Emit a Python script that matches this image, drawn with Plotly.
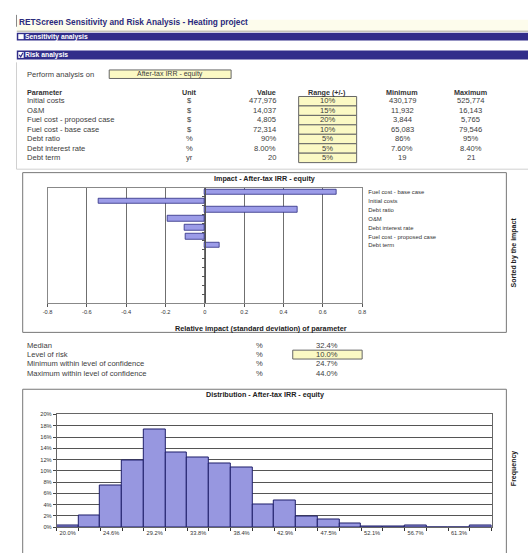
import plotly.graph_objects as go

# ---------------- data ----------------
params = ["Initial costs", "O&M", "Fuel cost - proposed case", "Fuel cost - base case",
          "Debt ratio", "Debt interest rate", "Debt term"]
units = ["$", "$", "$", "$", "%", "%", "yr"]
values = ["477,976", "14,037", "4,805", "72,314", "90%", "8.00%", "20"]
ranges = ["10%", "15%", "20%", "10%", "5%", "5%", "5%"]
minimums = ["430,179", "11,932", "3,844", "65,083", "86%", "7.60%", "19"]
maximums = ["525,774", "16,143", "5,765", "79,546", "95%", "8.40%", "21"]

impact_labels = ["Fuel cost - base case", "Initial costs", "Debt ratio", "O&M",
                 "Debt interest rate", "Fuel cost - proposed case", "Debt term"]
impacts = [0.67, -0.54, 0.47, -0.19, -0.105, -0.097, 0.075]
impact_ticks = [-0.8, -0.6, -0.4, -0.2, 0, 0.2, 0.4, 0.6, 0.8]
impact_ticklabels = ["-0.8", "-0.6", "-0.4", "-0.2", "0", "0.2", "0.4", "0.6", "0.8"]

risk_labels = ["Median", "Level of risk", "Minimum within level of confidence",
               "Maximum within level of confidence"]
risk_values = ["32.4%", "10.0%", "24.7%", "44.0%"]

freq = [0.3, 2.0, 7.4, 11.9, 17.3, 13.2, 12.4, 11.3, 10.6, 4.1,
        4.7, 1.9, 1.4, 0.6, 0.2, 0.2, 0.3, 0.0, 0.0, 0.3]
bin_labels = ["20.0%", "24.6%", "29.2%", "33.8%", "38.4%", "42.9%", "47.5%", "52.1%", "56.7%", "61.3%"]
freq_ticks = [0, 2, 4, 6, 8, 10, 12, 14, 16, 18, 20]
freq_ticklabels = ["0%", "2%", "4%", "6%", "8%", "10%", "12%", "14%", "16%", "18%", "20%"]

# ---------------- layout helpers ----------------
W, H = 532, 553
FONT = "Arial, Liberation Sans, sans-serif"
TXT = "#3c3c3c"
NAVY = "#312d8a"
YEL = "#fbf9c4"


def X(p):
    return p / W


def Y(p):
    return 1 - p / H


annots = []
shapes = []


def txt(x, y, s, size=7.6, color=TXT, bold=False, xanchor="left", angle=0):
    annots.append(dict(x=X(x), y=Y(y), xref="paper", yref="paper",
                       text=f"<b>{s}</b>" if bold else s, showarrow=False,
                       xanchor=xanchor, yanchor="middle", textangle=angle,
                       font=dict(size=size, color=color, family=FONT), borderpad=0))


def rect(x0, y0, x1, y1, fill=None, line=None, lw=1):
    shapes.append(dict(type="rect", xref="paper", yref="paper",
                       x0=X(x0), x1=X(x1), y0=Y(y1), y1=Y(y0),
                       fillcolor=fill if fill else "rgba(0,0,0,0)",
                       line=dict(color=line if line else "rgba(0,0,0,0)", width=lw if line else 0),
                       layer="below"))


def hline(x0, x1, y, color, lw=1):
    shapes.append(dict(type="line", xref="paper", yref="paper", x0=X(x0), x1=X(x1),
                       y0=Y(y), y1=Y(y), line=dict(color=color, width=lw), layer="below"))


def vline(x, y0, y1, color, lw=1):
    shapes.append(dict(type="line", xref="paper", yref="paper", x0=X(x), x1=X(x),
                       y0=Y(y0), y1=Y(y1), line=dict(color=color, width=lw), layer="below"))


# ---------------- header ----------------
rect(12, 17, 532, 28, fill="#fdfcec")
hline(12, 532, 28.5, "#a8a898", 1)
vline(11.7, 12, 24, "#888")
txt(13, 19.5, "RETScreen Sensitivity and Risk Analysis - Heating project", size=8.3, color="#2b2a7c", bold=True)

rect(12, 30, 532, 38, fill=NAVY)
rect(13.5, 31.5, 19, 36.5, fill="white")
txt(19.5, 34, "Sensitivity analysis", size=6.8, color="white", bold=True)

rect(12, 48, 532, 57, fill=NAVY)
rect(13.5, 49.5, 19, 55.5, fill="white")
shapes.append(dict(type="path", xref="paper", yref="paper",
                   path=f"M {X(14.5)},{Y(52.5)} L {X(16)},{Y(54.5)} L {X(18.3)},{Y(50.3)}",
                   line=dict(color=NAVY, width=1.2)))
txt(19.5, 52.5, "Risk analysis", size=6.8, color="white", bold=True)

# ---------------- perform analysis ----------------
txt(21, 72, "Perform analysis on")
rect(106, 67.7, 230, 76.3, fill=YEL, line="#666", lw=1)
txt(168, 72, "After-tax IRR - equity", size=7, xanchor="center")

# ---------------- table ----------------
vline(11.7, 60, 168, "#d0d0d0")
hline(11.7, 532, 168, "#d0d0d0")
hdr_y = 90
txt(21, hdr_y, "Parameter", size=7.2, bold=True, color="#333")
txt(188, hdr_y, "Unit", size=7.2, bold=True, color="#333", xanchor="center")
txt(276.5, hdr_y, "Value", size=7.2, bold=True, color="#333", xanchor="right")
txt(328, hdr_y, "Range (+/-)", size=7.2, bold=True, color="#333", xanchor="center")
txt(404, hdr_y, "Minimum", size=7.2, bold=True, color="#333", xanchor="center")
txt(474, hdr_y, "Maximum", size=7.2, bold=True, color="#333", xanchor="center")
row0, step = 99.0, 9.55
for i in range(len(params)):
    yy = row0 + step * i
    rect(298.7, yy - step / 2 + 0.3, 357.7, yy + step / 2 + 0.3, fill=YEL, line="#666", lw=1)
    txt(21, yy, params[i])
    txt(188, yy, units[i], xanchor="center")
    txt(276.5, yy, values[i], xanchor="right")
    txt(328, yy, ranges[i], xanchor="center")
    txt(404, yy, minimums[i], xanchor="center")
    txt(474, yy, maximums[i], xanchor="center")

# ---------------- tornado box ----------------
rect(18, 171.5, 510, 333, line="#777", lw=1)
txt(264, 177.5, "Impact - After-tax IRR - equity", size=7.2, bold=True, color="#222", xanchor="center")
txt(260, 329, "Relative impact (standard deviation) of parameter", size=7.3, bold=True, color="#222", xanchor="center")
txt(518, 252, "Sorted by the impact", size=7, bold=True, color="#222", xanchor="center", angle=-90)

# ---------------- risk summary ----------------
ry0, rstep = 346, 9.45
for i in range(len(risk_labels)):
    yy = ry0 + rstep * i
    if i == 1:
        rect(292.7, yy - 4.5, 363.3, yy + 4.5, fill=YEL, line="#666", lw=1)
    txt(21, yy, risk_labels[i])
    txt(259, yy, "%", xanchor="center")
    txt(328, yy, risk_values[i], xanchor="center")

# ---------------- histogram box ----------------
rect(18, 390.5, 510, 570, line="#777", lw=1)
txt(264, 395.5, "Distribution - After-tax IRR - equity", size=7.2, bold=True, color="#222", xanchor="center")
txt(518, 470, "Frequency", size=7, bold=True, color="#222", xanchor="center", angle=-90)

# ---------------- traces ----------------
fig = go.Figure()
fig.add_trace(go.Bar(x=impacts, y=list(range(len(impacts))), orientation="h",
                     marker=dict(color="#9c9ce8", line=dict(color="#2b2b80", width=0.8)),
                     width=0.62, xaxis="x", yaxis="y", showlegend=False, hoverinfo="skip"))
fig.add_trace(go.Scatter(x=[None], y=[None], xaxis="x", yaxis="y3", showlegend=False, hoverinfo="skip"))
fig.add_trace(go.Bar(x=list(range(len(freq))), y=freq,
                     marker=dict(color="#9797e0", line=dict(color="#1e1e6a", width=1)),
                     xaxis="x2", yaxis="y2", showlegend=False, hoverinfo="skip"))

TORN_SLOTS = 13
tx0, tx1 = X(43.3), X(363.3)
zero_pos = tx0 + (tx1 - tx0) * (0 - (-0.8)) / 1.6
small = dict(size=5.7, color="#333", family=FONT)

fig.update_layout(
    width=W, height=H, margin=dict(l=0, r=0, t=0, b=0),
    paper_bgcolor="white", plot_bgcolor="white", bargap=0,
    font=dict(family=FONT),
    xaxis=dict(domain=[tx0, tx1], range=[-0.8, 0.8], tickvals=impact_ticks, ticktext=impact_ticklabels,
               showgrid=True, gridcolor="#6f6f6f", gridwidth=1, showline=True, mirror=True,
               linecolor="#888", ticks="outside", ticklen=3, tickcolor="#555", tickfont=small,
               zeroline=False, anchor="y", fixedrange=True),
    yaxis=dict(domain=[Y(303.3), Y(186.7)], range=[TORN_SLOTS - 0.5, -0.5],
               tickvals=list(range(len(impact_labels))), ticktext=impact_labels, side="right",
               showgrid=False, showline=True, mirror=True, linecolor="#888", ticks="",
               ticklabelstandoff=4,
               tickfont=dict(size=5.9, color="#333", family=FONT), anchor="x", zeroline=False),
    yaxis3=dict(overlaying="y", anchor="free", position=zero_pos, range=[TORN_SLOTS - 0.5, -0.5],
                tickvals=[i + 0.5 for i in range(TORN_SLOTS - 1)], ticks="outside", ticklen=3,
                tickcolor="#555", showticklabels=False, showline=True, linecolor="#555",
                showgrid=False, zeroline=False, side="left"),
    xaxis2=dict(domain=[X(52.7), X(495)], range=[-0.5, len(freq) - 0.5],
                tickvals=list(range(0, len(freq), 2)), ticktext=bin_labels, ticks="", tickfont=small,
                showline=True, mirror=True, linecolor="#666", showgrid=False, zeroline=False,
                anchor="y2",
                minor=dict(tickvals=[i - 0.5 for i in range(len(freq) + 1)], ticks="outside",
                           ticklen=3, tickcolor="#333", showgrid=False)),
    yaxis2=dict(domain=[Y(530), Y(416)], range=[0, 20], tickvals=freq_ticks, ticktext=freq_ticklabels,
                showgrid=True, gridcolor="#555", gridwidth=1.2, showline=True, mirror=True,
                linecolor="#666", ticks="outside", ticklen=3, tickcolor="#444", tickfont=small,
                zeroline=False, anchor="x2"),
    annotations=annots, shapes=shapes,
)

fig.write_html("out.html", config={"displayModeBar": False},
               post_script=("document.documentElement.style.margin='0';"
                            "document.body.style.margin='0';document.body.style.padding='0';"
                            "document.documentElement.style.overflow='hidden';"
                            "document.body.style.overflow='hidden';"))
